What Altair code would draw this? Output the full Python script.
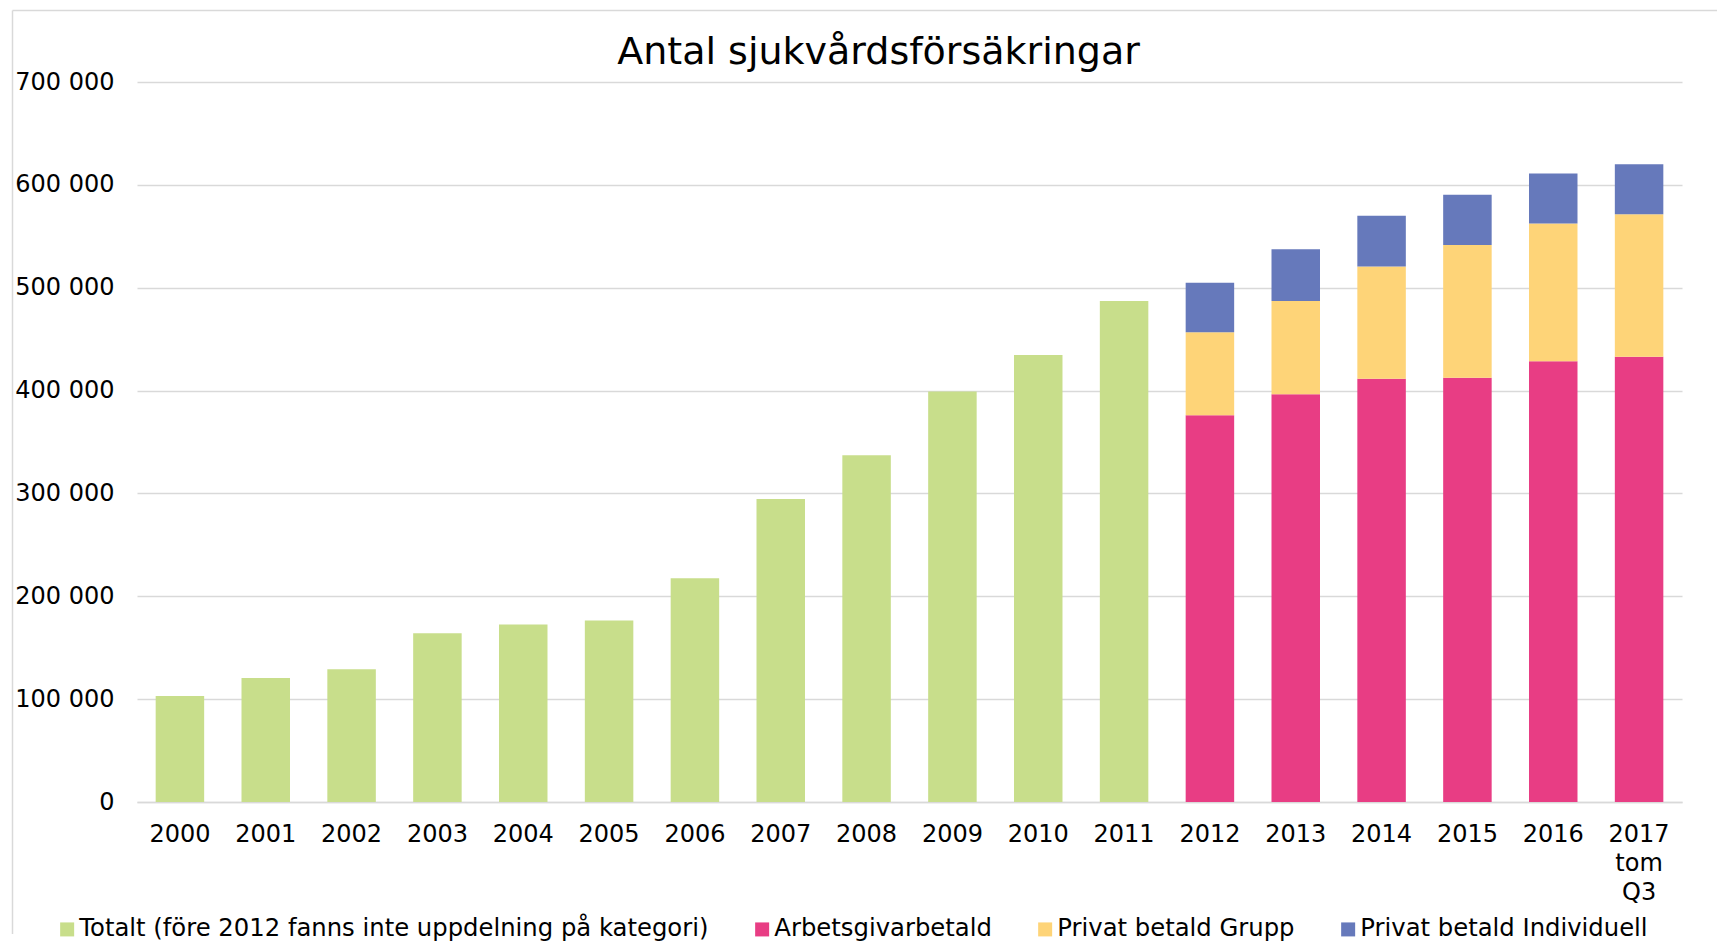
import altair as alt
import pandas as pd

years = ["2000", "2001", "2002", "2003", "2004", "2005", "2006", "2007", "2008",
         "2009", "2010", "2011", "2012", "2013", "2014", "2015", "2016", "2017 tom Q3"]

totalt_years = years[:12]
totalt = [103000, 120500, 129000, 164000, 172500, 176500, 217500, 294500,
          337000, 399000, 434500, 487000]

split_years = years[12:]
arbetsgivar = [376000, 396500, 411500, 412500, 428500, 433000]
grupp = [80700, 90700, 109100, 129100, 133900, 138400]
individuell = [48200, 50200, 49400, 48900, 48600, 48600]

series_names = [
    "Totalt (före 2012 fanns inte uppdelning på kategori)",
    "Arbetsgivarbetald",
    "Privat betald Grupp",
    "Privat betald Individuell",
]
colors = ["#c8de8b", "#e83d84", "#fed478", "#6679bb"]

rows = []
for yr, v in zip(totalt_years, totalt):
    rows.append({"year": yr, "series": series_names[0], "value": v, "order": 0})
for i, vals in enumerate([arbetsgivar, grupp, individuell]):
    for yr, v in zip(split_years, vals):
        rows.append({"year": yr, "series": series_names[i + 1], "value": v, "order": i + 1})
df = pd.DataFrame(rows)

FONT = "DejaVu Sans"
GRID = "#d9d9d9"

bars = alt.Chart(df).mark_bar(strokeWidth=0).encode(
    x=alt.X(
        "year:N",
        sort=years,
        scale=alt.Scale(paddingInner=0.435, paddingOuter=0.2175),
        axis=alt.Axis(
            title=None, labelAngle=0, labelExpr="split(datum.label, ' ')",
            labelFontSize=24, labelFont=FONT, labelColor="black",
            labelPadding=20, labelLineHeight=29, ticks=False,
            domainColor=GRID, domainWidth=1.5, grid=False,
        ),
    ),
    y=alt.Y(
        "value:Q",
        stack="zero",
        scale=alt.Scale(domain=[0, 700000], nice=False),
        axis=alt.Axis(
            title=None, values=list(range(0, 700001, 100000)),
            labelExpr="replace(format(datum.value, ','), ',', ' ')",
            labelFontSize=24, labelFont=FONT, labelColor="black",
            labelPadding=23, ticks=False, domain=False,
            grid=True, gridColor=GRID, gridWidth=1.5,
        ),
    ),
    color=alt.Color(
        "series:N",
        sort=series_names,
        scale=alt.Scale(domain=series_names, range=colors),
        legend=alt.Legend(
            title=None, orient="none", legendX=-82, legendY=835,
            padding=0, direction="horizontal", columns=4, symbolType="square",
            symbolSize=196, symbolStrokeWidth=0, labelFontSize=24.3,
            labelFont=FONT, labelColor="black", columnPadding=41,
            labelOffset=0, labelLimit=2000,
        ),
    ),
    order=alt.Order("order:Q"),
)

frame_data = alt.Data(values=[{"a": 1}])
top_rule = alt.Chart(frame_data).mark_rule(color=GRID, strokeWidth=1.5).encode(
    x=alt.value(-124.5), x2=alt.value(1580), y=alt.value(-71.5)
)
left_rule = alt.Chart(frame_data).mark_rule(color=GRID, strokeWidth=1.5).encode(
    x=alt.value(-124.5), y=alt.value(-71.5), y2=alt.value(852)
)

chart = alt.layer(top_rule, left_rule, bars).properties(
    width=1545,
    height=720,
    padding={"left": 3, "top": 1, "right": 0, "bottom": 0},
    title=alt.TitleParams(
        "Antal sjukvårdsförsäkringar", fontSize=38, font=FONT,
        fontWeight="normal", anchor="middle", dx=-31, dy=106, offset=14,
        baseline="alphabetic", color="black",
    ),
).configure(font=FONT).configure_view(stroke=None)

chart.save("out.html", embed_options={"renderer": "svg", "actions": False})
